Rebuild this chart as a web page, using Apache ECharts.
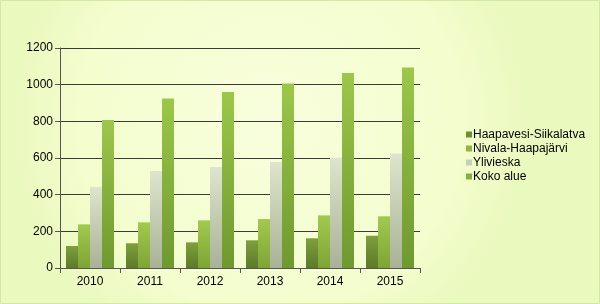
<!DOCTYPE html>
<html><head><meta charset="utf-8">
<script src="https://cdn.jsdelivr.net/npm/echarts@6/dist/echarts.min.js"></script>
<style>html,body{margin:0;padding:0;}#c{width:600px;height:304px;}</style>
</head><body><div id="c"></div>
<script>
var categories = ['2010','2011','2012','2013','2014','2015'];
var seriesNames = ['Haapavesi-Siikalatva','Nivala-Haapajärvi','Ylivieska','Koko alue'];
var haapavesi = [120, 135, 140, 151, 162, 176];
var nivala = [238, 249, 260, 267, 287, 282];
var ylivieska = [442, 529, 551, 578, 602, 625];
var kokoAlue = [807, 925, 960, 1007, 1064, 1093];
var yTicks = [0, 200, 400, 600, 800, 1000, 1200];

function grad(top, bottom){
  return new echarts.graphic.LinearGradient(0,0,0,1,[{offset:0,color:top},{offset:1,color:bottom}]);
}
var colors = [grad('#7f9f3c','#5c7a2a'), grad('#a2c94f','#7ea436'), grad('#dde5cc','#a9b296'), grad('#9cc74b','#6f9830')];
var legendColors = ['#6e8e33','#8fb843','#c8cfb8','#85b03e'];
var data = [haapavesi, nivala, ylivieska, kokoAlue];

var chart = echarts.init(document.getElementById('c'));
chart.setOption({
  backgroundColor: new echarts.graphic.RadialGradient(0.45,0.4,0.85,[{offset:0,color:'#f8fedc'},{offset:0.75,color:'#f3fdcd'},{offset:1,color:'#eaf9be'}]),
  animation:false,
  textStyle:{fontFamily:'Liberation Sans, Arial, sans-serif'},
  grid:{left:60,top:48,width:360,height:220},
  graphic:[{type:'rect',shape:{x:0.5,y:0.5,width:599,height:303},style:{fill:'none',stroke:'#d3e8a6',lineWidth:1},silent:true}],
  legend:{
    orient:'vertical', left:461, top:123, itemWidth:6, itemHeight:6, itemGap:1,
    textStyle:{fontSize:12,color:'#000',lineHeight:13,padding:[0,0,0,-4]},
    data: seriesNames.map(function(n,i){return {name:n,icon:'rect',itemStyle:{color:legendColors[i]}};})
  },
  xAxis:{
    type:'category', data:categories,
    axisLine:{lineStyle:{color:'#555',width:1}},
    axisTick:{show:true,length:5,lineStyle:{color:'#555'}},
    axisLabel:{color:'#000',fontSize:12,margin:8}
  },
  yAxis:{
    type:'value', min:0, max:1200, interval:200,
    axisLine:{show:true,lineStyle:{color:'#555',width:1}},
    axisTick:{show:true,length:5,lineStyle:{color:'#555'}},
    axisLabel:{color:'#000',fontSize:12,margin:7,formatter:function(v){return String(v);}},
    splitLine:{lineStyle:{color:'#3a3a3a',width:1}}
  },
  series: seriesNames.map(function(n,i){
    return {name:n,type:'bar',data:data[i],barGap:'0%',barCategoryGap:'20%',itemStyle:{color:colors[i]}};
  })
});
</script></body></html>
